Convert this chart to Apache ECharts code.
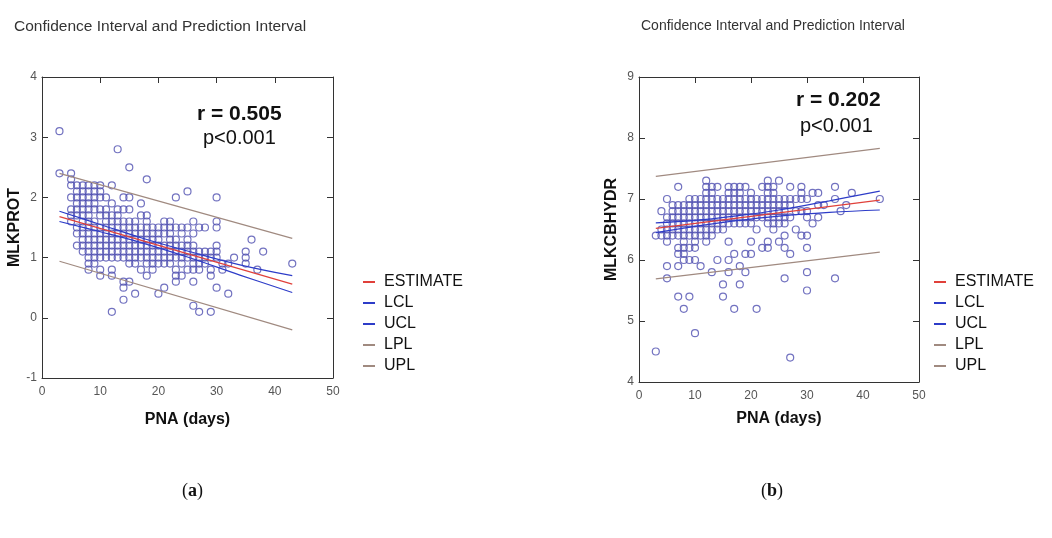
<!DOCTYPE html>
<html>
<head>
<meta charset="utf-8">
<script src="https://cdn.jsdelivr.net/npm/echarts@6/dist/echarts.min.js"></script>
<style>
html,body{margin:0;padding:0;background:#fff;}
#c{width:1052px;height:538px;}
</style>
</head>
<body>
<div id="c"></div>
<script>
// ---------- DATA ----------
var xTicks = [0, 10, 20, 30, 40, 50];
var yTicksA = [-1, 0, 1, 2, 3, 4];
var yTicksB = [4, 5, 6, 7, 8, 9];
var legendNames = ['ESTIMATE', 'LCL', 'UCL', 'LPL', 'UPL'];

// Panel (a): MLKPROT vs PNA, points grouped by PNA day
var colsA = [
  [3, [3.1, 2.4]],
  [5, [2.4, 2.3, 2.2, 2.0, 1.8, 1.7, 1.6]],
  [6, [2.2, 2.1, 2.0, 1.9, 1.8, 1.7, 1.5, 1.4, 1.2]],
  [7, [2.2, 2.1, 2.0, 1.9, 1.8, 1.7, 1.6, 1.5, 1.4, 1.3, 1.2, 1.1]],
  [8, [2.2, 2.1, 2.0, 1.9, 1.8, 1.7, 1.6, 1.5, 1.4, 1.3, 1.2, 1.1, 1.0, 0.9, 0.8]],
  [9, [2.2, 2.1, 2.0, 1.9, 1.8, 1.6, 1.5, 1.4, 1.3, 1.2, 1.1, 1.0, 0.9]],
  [10, [2.2, 2.1, 2.0, 1.8, 1.7, 1.5, 1.4, 1.3, 1.2, 1.1, 1.0, 0.8, 0.7]],
  [11, [2.0, 1.8, 1.7, 1.6, 1.5, 1.4, 1.3, 1.2, 1.1, 1.0]],
  [12, [2.2, 1.9, 1.7, 1.6, 1.5, 1.4, 1.3, 1.2, 1.1, 1.0, 0.8, 0.7, 0.1]],
  [13, [2.8, 1.8, 1.7, 1.6, 1.5, 1.4, 1.3, 1.2, 1.1, 1.0]],
  [14, [2.0, 1.8, 1.6, 1.5, 1.4, 1.3, 1.2, 1.1, 1.0, 0.6, 0.5, 0.3]],
  [15, [2.5, 2.0, 1.8, 1.6, 1.5, 1.4, 1.3, 1.2, 1.1, 1.0, 0.9, 0.6]],
  [16, [1.6, 1.5, 1.4, 1.3, 1.2, 1.1, 1.0, 0.9, 0.4]],
  [17, [1.9, 1.7, 1.5, 1.4, 1.3, 1.2, 1.1, 1.0, 0.8]],
  [18, [2.3, 1.7, 1.6, 1.5, 1.4, 1.3, 1.2, 1.1, 1.0, 0.9, 0.7]],
  [19, [1.5, 1.4, 1.3, 1.2, 1.1, 1.0, 0.9, 0.8]],
  [20, [1.5, 1.4, 1.3, 1.2, 1.1, 1.0, 0.9, 0.4]],
  [21, [1.6, 1.5, 1.4, 1.2, 1.1, 1.0, 0.9, 0.5]],
  [22, [1.6, 1.5, 1.4, 1.3, 1.2, 1.1, 1.0, 0.9]],
  [23, [2.0, 1.5, 1.3, 1.2, 1.1, 1.0, 0.8, 0.7, 0.6]],
  [24, [1.5, 1.4, 1.2, 1.1, 1.0, 0.9, 0.7]],
  [25, [2.1, 1.5, 1.3, 1.2, 1.1, 1.0, 0.8]],
  [26, [1.6, 1.4, 1.2, 1.1, 1.0, 0.9, 0.8, 0.6, 0.2]],
  [27, [1.5, 1.1, 1.0, 0.9, 0.8, 0.1]],
  [28, [1.5, 1.1, 1.0, 0.9]],
  [29, [1.1, 1.0, 0.8, 0.7, 0.1]],
  [30, [2.0, 1.6, 1.5, 1.2, 1.1, 1.0, 0.5]],
  [31, [0.9, 0.8]],
  [32, [0.9, 0.4]],
  [33, [1.0]],
  [35, [1.1, 1.0, 0.9]],
  [36, [1.3]],
  [37, [0.8]],
  [38, [1.1]],
  [43, [0.9]]
];
var estA = [[3, 1.68], [43, 0.56]];
var lclA = [[3, 1.60], [10, 1.43], [17, 1.25], [25, 1.01], [34, 0.71], [43, 0.42]];
var uclA = [[3, 1.77], [10, 1.55], [17, 1.33], [25, 1.11], [34, 0.88], [43, 0.70]];
var lplA = [[3, 0.94], [43, -0.20]];
var uplA = [[3, 2.40], [43, 1.32]];

// Panel (b): MLKCBHYDR vs PNA
var colsB = [
  [3, [6.4, 4.5]],
  [4, [6.8, 6.5, 6.4]],
  [5, [7.0, 6.7, 6.6, 6.5, 6.4, 6.3, 5.9, 5.7]],
  [6, [6.9, 6.8, 6.7, 6.6, 6.5, 6.4]],
  [7, [7.2, 6.9, 6.8, 6.7, 6.6, 6.5, 6.4, 6.2, 6.1, 5.9, 5.4]],
  [8, [6.9, 6.8, 6.7, 6.6, 6.5, 6.4, 6.3, 6.2, 6.1, 6.0, 5.2]],
  [9, [7.0, 6.9, 6.8, 6.7, 6.6, 6.5, 6.4, 6.2, 6.0, 5.4]],
  [10, [7.0, 6.9, 6.8, 6.7, 6.6, 6.5, 6.4, 6.3, 6.2, 6.0, 4.8]],
  [11, [7.0, 6.9, 6.8, 6.7, 6.6, 6.5, 6.4, 5.9]],
  [12, [7.3, 7.2, 7.1, 7.0, 6.9, 6.8, 6.7, 6.6, 6.5, 6.4, 6.3]],
  [13, [7.2, 7.1, 7.0, 6.9, 6.8, 6.7, 6.6, 6.5, 6.4, 5.8]],
  [14, [7.2, 7.0, 6.9, 6.8, 6.7, 6.6, 6.5, 6.0]],
  [15, [7.0, 6.9, 6.8, 6.7, 6.6, 6.5, 5.6, 5.4]],
  [16, [7.2, 7.1, 7.0, 6.9, 6.8, 6.7, 6.6, 6.3, 6.0, 5.8]],
  [17, [7.2, 7.1, 7.0, 6.9, 6.8, 6.7, 6.6, 6.1, 5.2]],
  [18, [7.2, 7.1, 7.0, 6.9, 6.8, 6.7, 6.6, 5.9, 5.6]],
  [19, [7.2, 7.0, 6.9, 6.8, 6.7, 6.6, 6.1, 5.8]],
  [20, [7.1, 7.0, 6.9, 6.8, 6.7, 6.6, 6.3, 6.1]],
  [21, [7.0, 6.9, 6.8, 6.7, 6.5, 5.2]],
  [22, [7.2, 7.0, 6.9, 6.8, 6.7, 6.2]],
  [23, [7.3, 7.2, 7.1, 7.0, 6.9, 6.8, 6.7, 6.6, 6.3, 6.2]],
  [24, [7.2, 7.1, 7.0, 6.9, 6.8, 6.7, 6.6, 6.5]],
  [25, [7.3, 7.0, 6.9, 6.8, 6.7, 6.6, 6.3]],
  [26, [7.0, 6.9, 6.8, 6.7, 6.6, 6.4, 6.2, 5.7]],
  [27, [7.2, 7.0, 6.9, 6.7, 6.1, 4.4]],
  [28, [7.0, 6.8, 6.5]],
  [29, [7.2, 7.1, 7.0, 6.8, 6.4]],
  [30, [7.0, 6.8, 6.7, 6.4, 6.2, 5.8, 5.5]],
  [31, [7.1, 6.6]],
  [32, [7.1, 6.9, 6.7]],
  [33, [6.9]],
  [35, [7.2, 7.0, 5.7]],
  [36, [6.8]],
  [37, [6.9]],
  [38, [7.1]],
  [43, [7.0]]
];
var estB = [[3, 6.52], [43, 6.98]];
var lclB = [[3, 6.45], [10, 6.55], [17, 6.64], [25, 6.72], [34, 6.78], [43, 6.82]];
var uclB = [[3, 6.61], [10, 6.65], [17, 6.72], [25, 6.82], [34, 6.97], [43, 7.13]];
var lplB = [[3, 5.69], [43, 6.13]];
var uplB = [[3, 7.37], [43, 7.83]];

// ---------- BUILD ----------
function flatten(cols) {
  var out = [];
  cols.forEach(function (c) { c[1].forEach(function (y) { out.push([c[0], y]); }); });
  return out;
}
var COL = { est: '#e0403a', cl: '#2d3cc8', pl: '#a08a80', pt: '#4f4fb0' };
var FONT = 'Liberation Sans, Arial, sans-serif';

function xAxes(grid, gap) {
  return [
    { type: 'value', gridIndex: grid, position: 'bottom', min: xTicks[0], max: xTicks[xTicks.length - 1], interval: 10,
      name: 'PNA (days)', nameLocation: 'middle', nameGap: gap,
      nameTextStyle: { fontFamily: FONT, fontWeight: 'bold', fontSize: 16, color: '#111' },
      axisLine: { show: true, onZero: false, lineStyle: { color: '#333', width: 1 } },
      axisTick: { show: false },
      axisLabel: { color: '#555', fontFamily: FONT, fontSize: 12, margin: 8 },
      splitLine: { show: false } },
    { type: 'value', gridIndex: grid, position: 'top', min: xTicks[0], max: xTicks[xTicks.length - 1], interval: 10,
      axisLine: { show: true, onZero: false, lineStyle: { color: '#333', width: 1 } },
      axisTick: { show: true, inside: true, length: 6, lineStyle: { color: '#333' } },
      axisLabel: { show: false }, splitLine: { show: false } }
  ];
}
function yAxes(grid, ticks, name) {
  return [
    { type: 'value', gridIndex: grid, position: 'left', min: ticks[0], max: ticks[ticks.length - 1], interval: 1,
      name: name, nameLocation: 'middle', nameGap: 19,
      nameTextStyle: { fontFamily: FONT, fontWeight: 'bold', fontSize: 16, color: '#111' },
      axisLine: { show: true, onZero: false, lineStyle: { color: '#333', width: 1 } },
      axisTick: { show: true, inside: true, length: 6, lineStyle: { color: '#333' } },
      axisLabel: { color: '#555', fontFamily: FONT, fontSize: 12, margin: 5 },
      splitLine: { show: false } },
    { type: 'value', gridIndex: grid, position: 'right', min: ticks[0], max: ticks[ticks.length - 1], interval: 1,
      axisLine: { show: true, onZero: false, lineStyle: { color: '#333', width: 1 } },
      axisTick: { show: true, inside: true, length: 6, lineStyle: { color: '#333' } },
      axisLabel: { show: false }, splitLine: { show: false } }
  ];
}
function lineSeries(name, data, color, xi, yi, smooth) {
  return { name: name, type: 'line', xAxisIndex: xi, yAxisIndex: yi, data: data, smooth: smooth ? 0.4 : false,
    showSymbol: false, symbol: 'none', lineStyle: { color: color, width: 1.2 }, itemStyle: { color: color },
    z: 5, animation: false };
}
function scatterSeries(data, xi, yi) {
  return { name: 'pts', type: 'scatter', xAxisIndex: xi, yAxisIndex: yi, data: data, symbol: 'circle', symbolSize: 7,
    itemStyle: { color: 'rgba(0,0,0,0)', borderColor: COL.pt, borderWidth: 1.2 }, z: 3, animation: false };
}
function legend(left) {
  var cols = [COL.est, COL.cl, COL.cl, COL.pl, COL.pl];
  return { orient: 'vertical', left: left, top: 274, padding: 0, itemWidth: 12, itemHeight: 2, itemGap: 5, icon: 'rect',
    selectedMode: false,
    textStyle: { fontFamily: FONT, fontSize: 16, lineHeight: 16, color: '#111', padding: [0, 0, 0, 4] },
    data: legendNames.map(function (n, i) { return { name: n, icon: 'rect', itemStyle: { color: cols[i] } }; }) };
}

var chart = echarts.init(document.getElementById('c'), null, { renderer: 'canvas' });
chart.setOption({
  animation: false,
  backgroundColor: '#fff',
  title: [
    { text: 'Confidence Interval and Prediction Interval', left: 9, top: 14,
      textStyle: { fontFamily: FONT, fontSize: 15.5, fontWeight: 'normal', color: '#333' } },
    { text: 'Confidence Interval and Prediction Interval', left: 636, top: 14,
      textStyle: { fontFamily: FONT, fontSize: 14, fontWeight: 'normal', color: '#333' } }
  ],
  grid: [
    { left: 42, top: 77, width: 291, height: 301 },
    { left: 639, top: 77, width: 280, height: 305 }
  ],
  xAxis: xAxes(0, 34).concat(xAxes(1, 29)),
  yAxis: yAxes(0, yTicksA, 'MLKPROT').concat(yAxes(1, yTicksB, 'MLKCBHYDR')),
  legend: [legend(363), legend(934)],
  series: [
    scatterSeries(flatten(colsA), 0, 0),
    lineSeries('LPL', lplA, COL.pl, 0, 0),
    lineSeries('UPL', uplA, COL.pl, 0, 0),
    lineSeries('LCL', lclA, COL.cl, 0, 0, true),
    lineSeries('UCL', uclA, COL.cl, 0, 0, true),
    lineSeries('ESTIMATE', estA, COL.est, 0, 0),
    scatterSeries(flatten(colsB), 2, 2),
    lineSeries('LPL', lplB, COL.pl, 2, 2),
    lineSeries('UPL', uplB, COL.pl, 2, 2),
    lineSeries('LCL', lclB, COL.cl, 2, 2, true),
    lineSeries('UCL', uclB, COL.cl, 2, 2, true),
    lineSeries('ESTIMATE', estB, COL.est, 2, 2)
  ],
  graphic: [
    { type: 'text', left: 197, top: 104, style: { text: 'r = 0.505', font: 'bold 21px ' + FONT, fill: '#111' } },
    { type: 'text', left: 203, top: 128, style: { text: 'p<0.001', font: '20px ' + FONT, fill: '#111' } },
    { type: 'text', left: 796, top: 90, style: { text: 'r = 0.202', font: 'bold 21px ' + FONT, fill: '#111' } },
    { type: 'text', left: 800, top: 116, style: { text: 'p<0.001', font: '20px ' + FONT, fill: '#111' } },
    { type: 'text', left: 182, top: 482, style: { text: '({b|a})', font: '18px Liberation Serif, serif', fill: '#111',
        rich: { b: { fontWeight: 'bold', fontSize: 18, fontFamily: 'Liberation Serif, serif' } } } },
    { type: 'text', left: 761, top: 482, style: { text: '({b|b})', font: '18px Liberation Serif, serif', fill: '#111',
        rich: { b: { fontWeight: 'bold', fontSize: 18, fontFamily: 'Liberation Serif, serif' } } } }
  ]
});
</script>
</body>
</html>
